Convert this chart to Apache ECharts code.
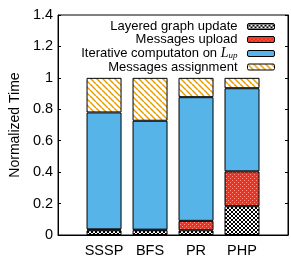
<!DOCTYPE html>
<html>
<head>
<meta charset="utf-8">
<script src="https://cdn.jsdelivr.net/npm/echarts@6/dist/echarts.min.js"></script>
<style>
  html, body { margin: 0; padding: 0; background: #fff; }
  #chart { width: 291px; height: 259px; }
</style>
</head>
<body>
<div id="chart"></div>
<script>
// data
var categories = ['SSSP', 'BFS', 'PR', 'PHP'];
var layered = [0.03, 0.03, 0.03, 0.183];
var upload = [0.006, 0.004, 0.06, 0.222];
var iterative = [0.744, 0.693, 0.787, 0.529];
var assignment = [0.22, 0.273, 0.123, 0.066];
var seriesNames = ['Layered graph update', 'Messages upload', 'Iterative computaton on L_up', 'Messages assignment'];
var yTicks = [0, 0.2, 0.4, 0.6, 0.8, 1, 1.2, 1.4];

function makeTile(w, h, draw) {
    var c = document.createElement('canvas');
    c.width = w;
    c.height = h;
    draw(c.getContext('2d'));
    return { image: c, repeat: 'repeat' };
}

// black crosshatch
var crossPat = makeTile(4, 4, function (ctx) {
    ctx.fillStyle = '#000';
    ctx.fillRect(0, 0, 4, 4);
    ctx.fillStyle = '#fff';
    ctx.fillRect(1, 0, 2, 1);
    ctx.fillRect(0, 1, 1, 2);
    ctx.fillRect(3, 1, 1, 2);
    ctx.fillRect(1, 3, 2, 1);
});
// red with white dots
var redPat = makeTile(4, 4, function (ctx) {
    ctx.fillStyle = '#f2301c';
    ctx.fillRect(0, 0, 4, 4);
    ctx.fillStyle = 'rgba(255,255,255,0.5)';
    ctx.fillRect(0, 0, 1, 1);
    ctx.fillRect(2, 2, 1, 1);
});
// orange diagonal stripes
var stripePat = makeTile(6, 6, function (ctx) {
    ctx.fillStyle = '#fff';
    ctx.fillRect(0, 0, 6, 6);
    ctx.strokeStyle = '#e69f00';
    ctx.lineWidth = 1.5;
    for (var k = -6; k <= 12; k += 6) {
        ctx.beginPath();
        ctx.moveTo(k, 0);
        ctx.lineTo(k + 6, 6);
        ctx.stroke();
    }
});

function pad(arr) {
    return ['-'].concat(arr).concat(['-']);
}

var chart = echarts.init(document.getElementById('chart'), null, { renderer: 'canvas' });

var fills = [crossPat, redPat, '#56b4e9', stripePat];
var values = [layered, upload, iterative, assignment];
var series = [];
for (var i = 0; i < seriesNames.length; i++) {
    series.push({
        name: seriesNames[i],
        type: 'bar',
        stack: 'all',
        barWidth: 35,
        data: pad(values[i]),
        itemStyle: { color: fills[i], borderColor: '#000', borderWidth: 1 },
        emphasis: { disabled: true },
        animation: false
    });
}

var option = {
    animation: false,
    textStyle: { fontFamily: 'Liberation Sans', color: '#000' },
    grid: {
        left: 48, top: 15, width: 244, height: 220,
        show: true, borderColor: '#000', borderWidth: 1, backgroundColor: 'transparent'
    },
    legend: {
        data: seriesNames.slice(),
        orient: 'vertical',
        right: 11,
        top: 15,
        align: 'right',
        itemWidth: 27,
        itemHeight: 6,
        itemGap: 0,
        selectedMode: false,
        itemStyle: { borderColor: '#000', borderWidth: 1 },
        textStyle: {
            fontFamily: 'Liberation Sans', fontSize: 13, color: '#000', lineHeight: 13,
            padding: [0, 5, 0, 0],
            rich: {
                L: { fontFamily: 'Liberation Serif', fontStyle: 'italic', fontSize: 14, color: '#000', lineHeight: 13 },
                s: { fontFamily: 'Liberation Serif', fontStyle: 'italic', fontSize: 9, color: '#000', lineHeight: 13, verticalAlign: 'bottom', padding: [5, 0, 0, 0] }
            }
        },
        formatter: function (name) {
            if (name.indexOf('L_up') >= 0) {
                return 'Iterative computaton on {L|L}{s|up}';
            }
            return name;
        }
    },
    xAxis: {
        type: 'category',
        data: [''].concat(categories).concat(['']),
        boundaryGap: false,
        axisLine: { show: true, lineStyle: { color: '#000' } },
        axisTick: { show: false },
        axisLabel: { fontSize: 14.5, color: '#000', margin: 8, interval: 0 },
        splitLine: { show: false }
    },
    yAxis: [{
        type: 'value',
        min: 0,
        max: 1.4,
        interval: 0.2,
        name: 'Normalized Time',
        nameLocation: 'middle',
        nameGap: 35,
        nameTextStyle: { fontSize: 14, color: '#000' },
        axisLine: { show: true, lineStyle: { color: '#000' } },
        axisTick: { show: true, inside: true, length: 3, lineStyle: { color: '#000' } },
        axisLabel: {
            fontSize: 14.5, color: '#000', margin: 5,
            formatter: function (v) {
                var t = yTicks.filter(function (x) { return Math.abs(x - v) < 1e-6; });
                return t.length ? String(t[0]) : '';
            }
        },
        splitLine: { show: false }
    }, {
        type: 'value',
        min: 0,
        max: 1.4,
        interval: 0.2,
        position: 'right',
        axisLine: { show: true, lineStyle: { color: '#000' } },
        axisTick: { show: true, inside: true, length: 3, lineStyle: { color: '#000' } },
        axisLabel: { show: false },
        splitLine: { show: false }
    }],
    series: series
};

chart.setOption(option);
</script>
</body>
</html>
